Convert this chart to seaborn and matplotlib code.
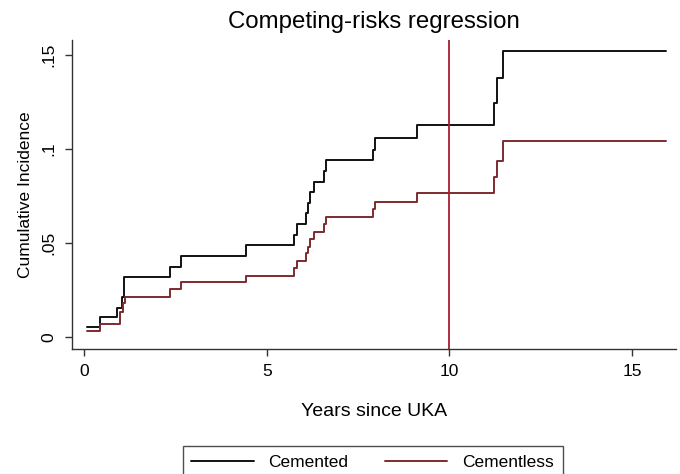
import numpy as np
import pandas as pd
import matplotlib
matplotlib.use("Agg")
import matplotlib.pyplot as plt
import seaborn as sns

sns.set_style("white")
plt.rcParams['font.family'] = ['Liberation Sans', 'DejaVu Sans']
plt.rcParams['text.color'] = 'black'
plt.rcParams['axes.labelcolor'] = 'black'
plt.rcParams['xtick.labelcolor'] = 'black'
plt.rcParams['ytick.labelcolor'] = 'black'

# Step times (years) and cumulative incidence after each step
cemented_t = [0.08, 0.44, 0.91, 1.03, 1.08, 1.10, 2.36, 2.66, 4.43, 5.74, 5.83, 6.08,
              6.12, 6.19, 6.28, 6.58, 6.62, 7.91, 7.95, 9.11, 11.21, 11.30, 11.46, 15.92]
cemented_y = [0.0053, 0.0105, 0.0156, 0.0214, 0.026, 0.0317, 0.0374, 0.043, 0.049, 0.054,
              0.060, 0.0658, 0.0714, 0.077, 0.0826, 0.0885, 0.094, 0.0995, 0.106, 0.1128,
              0.1246, 0.1376, 0.1523, 0.1523]
cementless_t = [0.08, 0.44, 0.97, 1.06, 1.12, 2.36, 2.66, 4.43, 5.74, 5.83, 6.08, 6.12,
                6.19, 6.28, 6.58, 6.62, 7.91, 7.95, 9.11, 11.21, 11.30, 11.46, 15.92]
cementless_y = [0.0034, 0.0069, 0.0135, 0.018, 0.0214, 0.0254, 0.029, 0.0326, 0.0369,
                0.0406, 0.0445, 0.048, 0.052, 0.056, 0.060, 0.0637, 0.068, 0.072, 0.0768,
                0.0853, 0.0938, 0.1044, 0.1044]
groups = ["Cemented", "Cementless"]
vline_year = 10
x_ticks = [0, 5, 10, 15]
y_ticks = [0, 0.05, 0.1, 0.15]
y_ticklabels = ["0", ".05", ".1", ".15"]

df = pd.concat([
    pd.DataFrame({"t": cemented_t, "ci": cemented_y, "group": groups[0]}),
    pd.DataFrame({"t": cementless_t, "ci": cementless_y, "group": groups[1]}),
], ignore_index=True)

fig = plt.figure(figsize=(6.8, 4.74), dpi=100)
ax = fig.add_axes([72/680, 1-349/474, (676-72)/680, (349-40)/474])

palette = {"Cemented": "#111111", "Cementless": "#7d2b2e"}
sns.lineplot(data=df, x="t", y="ci", hue="group", palette=palette, ax=ax,
             drawstyle="steps-post", linewidth=1.4, estimator=None, sort=False,
             legend=True)
ax.axvline(vline_year, color="#a81c33", linewidth=1.3)

ax.set_xlim(-0.33, 16.2)
ax.set_ylim(-0.0064, 0.158)
ax.set_xticks(x_ticks)
ax.set_xticklabels([str(v) for v in x_ticks], fontsize=12.5)
ax.set_yticks(y_ticks)
ax.set_yticklabels(y_ticklabels, fontsize=12.5, rotation=90, va="center")
for s in ["top", "right"]:
    ax.spines[s].set_visible(False)
for s in ["left", "bottom"]:
    ax.spines[s].set_color("#333333")
    ax.spines[s].set_linewidth(1.0)
ax.tick_params(axis="both", direction="out", length=5, width=1.0, color="#333333",
               pad=6, left=True, bottom=True)
ax.set_xlabel("Years since UKA", fontsize=14, labelpad=17)
ax.set_ylabel("Cumulative Incidence", fontsize=12.5, labelpad=6)
fig.text(0.55, 1-22/474, "Competing-risks regression", fontsize=17.3, ha="center", va="center")

handles, labels = ax.get_legend_handles_labels()
ax.get_legend().remove()
leg = fig.legend(handles, labels, loc="upper center", bbox_to_anchor=(0.548, 1-446/474),
                 ncol=2, frameon=True, fancybox=False, fontsize=12.5, handlelength=3.6,
                 columnspacing=2.1, borderpad=0.5, handletextpad=0.85, borderaxespad=0)
leg.get_frame().set_edgecolor("#222222")
leg.get_frame().set_linewidth(1.0)

fig.savefig("out.png", dpi=100)
